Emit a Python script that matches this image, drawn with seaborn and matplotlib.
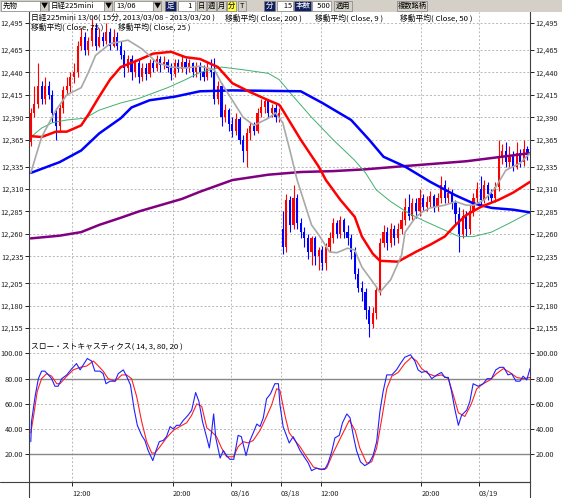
import numpy as np
import pandas as pd
import matplotlib
matplotlib.use("Agg")
import matplotlib.pyplot as plt
from matplotlib.patches import Rectangle
from matplotlib.lines import Line2D
import seaborn as sns

# 15-minute candles, Nikkei 225 mini 13/06
opens = [12362, 12395, 12405, 12425, 12410, 12425, 12415, 12395, 12380, 12400,
         12420, 12425, 12435, 12440, 12470, 12480, 12465, 12475, 12490, 12470,
         12480, 12475, 12485, 12470, 12480, 12470, 12460, 12445, 12455, 12440,
         12450, 12435, 12445, 12438, 12450, 12445, 12455, 12448, 12452, 12445,
         12438, 12450, 12444, 12452, 12445, 12450, 12440, 12447, 12440, 12435,
         12445, 12440, 12410, 12425, 12390, 12398, 12382, 12375, 12388, 12365,
         12352, 12372, 12380, 12375, 12395, 12402, 12408, 12395, 12400, 12390,
         12265, 12245, 12298, 12270, 12300, 12272, 12262, 12255, 12240, 12255,
         12235, 12242, 12228, 12245, 12255, 12272, 12260, 12275, 12262, 12255,
         12240, 12215, 12200, 12195, 12175, 12160, 12172, 12198, 12250, 12262,
         12250, 12265, 12255, 12266, 12276, 12290, 12280, 12295, 12285, 12300,
         12290, 12296, 12302, 12290, 12300, 12315, 12300, 12306, 12294, 12282,
         12260, 12280, 12266, 12285, 12300, 12310, 12298, 12315, 12305, 12300,
         12312, 12345, 12352, 12340, 12348, 12335, 12350, 12340, 12355]
closes = [12395, 12405, 12425, 12410, 12425, 12415, 12395, 12380, 12400, 12420,
          12425, 12435, 12440, 12470, 12480, 12465, 12475, 12490, 12470, 12480,
          12475, 12485, 12470, 12480, 12470, 12460, 12445, 12455, 12440, 12450,
          12435, 12445, 12438, 12450, 12445, 12455, 12448, 12452, 12445, 12438,
          12450, 12444, 12452, 12445, 12450, 12440, 12447, 12440, 12435, 12445,
          12440, 12410, 12425, 12390, 12398, 12382, 12375, 12388, 12365, 12352,
          12372, 12380, 12375, 12395, 12402, 12408, 12395, 12400, 12390, 12395,
          12245, 12298, 12270, 12300, 12272, 12262, 12255, 12240, 12255, 12235,
          12242, 12228, 12245, 12255, 12272, 12260, 12275, 12262, 12255, 12240,
          12215, 12200, 12195, 12175, 12160, 12172, 12198, 12250, 12262, 12250,
          12265, 12255, 12266, 12276, 12290, 12280, 12295, 12285, 12300, 12290,
          12296, 12302, 12290, 12300, 12315, 12300, 12306, 12294, 12282, 12260,
          12280, 12266, 12285, 12300, 12310, 12298, 12315, 12305, 12300, 12312,
          12345, 12352, 12340, 12348, 12335, 12350, 12340, 12355, 12348]
highs = [12400, 12425, 12450, 12430, 12435, 12430, 12420, 12400, 12405, 12425,
         12435, 12440, 12450, 12475, 12490, 12485, 12480, 12500, 12495, 12490,
         12485, 12495, 12490, 12488, 12485, 12475, 12465, 12460, 12460, 12455,
         12455, 12450, 12450, 12455, 12455, 12460, 12458, 12458, 12455, 12450,
         12455, 12455, 12458, 12456, 12455, 12452, 12452, 12452, 12448, 12452,
         12455, 12456, 12430, 12428, 12405, 12400, 12390, 12395, 12390, 12370,
         12378, 12385, 12385, 12400, 12410, 12412, 12410, 12405, 12405, 12400,
         12285, 12305, 12302, 12315, 12305, 12278, 12268, 12260, 12258, 12258,
         12245, 12246, 12250, 12262, 12278, 12275, 12280, 12278, 12270, 12260,
         12245, 12222, 12208, 12200, 12180, 12178, 12202, 12255, 12270, 12268,
         12272, 12270, 12272, 12285, 12300, 12305, 12300, 12300, 12310, 12305,
         12302, 12308, 12305, 12306, 12325, 12320, 12312, 12310, 12298, 12290,
         12288, 12285, 12292, 12306, 12318, 12325, 12320, 12318, 12310, 12318,
         12365, 12360, 12362, 12358, 12352, 12362, 12355, 12365, 12358]
lows = [12358, 12390, 12400, 12405, 12405, 12410, 12385, 12365, 12375, 12395,
        12415, 12418, 12428, 12435, 12465, 12460, 12460, 12470, 12465, 12468,
        12470, 12472, 12465, 12468, 12465, 12455, 12435, 12440, 12432, 12435,
        12428, 12430, 12432, 12435, 12440, 12442, 12440, 12444, 12440, 12432,
        12435, 12440, 12440, 12438, 12440, 12435, 12435, 12432, 12430, 12432,
        12435, 12405, 12405, 12380, 12385, 12375, 12368, 12370, 12360, 12340,
        12335, 12365, 12370, 12372, 12390, 12395, 12390, 12390, 12385, 12385,
        12238, 12240, 12262, 12265, 12265, 12255, 12245, 12232, 12225, 12225,
        12220, 12220, 12220, 12240, 12250, 12255, 12255, 12255, 12248, 12232,
        12210, 12195, 12185, 12165, 12145, 12155, 12165, 12192, 12245, 12242,
        12245, 12248, 12250, 12260, 12270, 12275, 12275, 12278, 12280, 12285,
        12285, 12290, 12284, 12285, 12295, 12295, 12295, 12288, 12270, 12240,
        12255, 12258, 12260, 12280, 12295, 12292, 12294, 12298, 12295, 12296,
        12308, 12338, 12335, 12335, 12330, 12332, 12335, 12336, 12342]

# moving averages, sampled along each line (bar position, value)
ma9_x = [0, 3, 7, 10, 14, 16, 18, 22, 27, 31, 35, 39, 43, 47, 51, 53, 56, 59, 62, 66,
         68, 70, 72, 74, 76, 78, 80, 83, 85, 88, 90, 92, 96, 97, 100, 103, 104, 107, 109, 111,
         115, 118, 121, 123, 126, 129, 132, 136, 138.7]
ma9_y = [12328, 12368, 12398, 12415, 12423, 12440, 12459, 12472, 12476, 12466,
         12451, 12446, 12445, 12447, 12443, 12428, 12409, 12390, 12381, 12389,
         12395, 12384, 12353, 12320, 12295, 12270, 12259, 12240, 12239, 12244,
         12242, 12223, 12201, 12195, 12209, 12236, 12262, 12279, 12285, 12289,
         12292, 12296, 12292, 12292, 12298, 12311, 12331, 12339, 12350]
ma25_x = [0, 3, 7, 10, 14, 16, 19, 22, 25, 30, 34, 39, 43, 47, 52, 56, 61, 66, 69, 70,
          75, 80, 82, 86, 90, 92, 95, 97, 102, 107, 111, 115, 118, 121, 125, 130, 134, 138.7]
ma25_y = [12369, 12368, 12374, 12374, 12381, 12393, 12413, 12432, 12446, 12454,
          12461, 12463, 12457, 12455, 12446, 12428, 12418, 12409, 12404, 12398,
          12365, 12335, 12320, 12298, 12279, 12257, 12238, 12230, 12229, 12240,
          12248, 12257, 12270, 12281, 12290, 12298, 12306, 12318]
ma50_x = [0, 3, 6, 10, 15, 19, 25, 30, 38, 43, 47, 53, 59, 66, 69, 73, 78, 84, 90, 93,
          96, 100, 105, 109, 114, 119, 123, 128, 133, 138.7]
ma50_y = [12368, 12378, 12384, 12387, 12389, 12398, 12406, 12411, 12423, 12432,
          12440, 12446, 12443, 12439, 12432, 12413, 12390, 12365, 12342, 12328,
          12309, 12296, 12283, 12275, 12266, 12257, 12257, 12262, 12272, 12284]
ma75_x = [0, 8, 14, 19, 25, 28, 33, 40, 47, 56, 75, 81, 89, 94, 98, 104, 111, 118, 123, 128,
          134, 138.7]
ma75_y = [12328, 12340, 12353, 12372, 12389, 12401, 12409, 12413, 12419, 12420,
          12419, 12406, 12387, 12365, 12346, 12335, 12318, 12303, 12294, 12289,
          12287, 12284]
ma200_x = [0, 8, 14, 19, 25, 30, 36, 42, 47, 56, 66, 75, 84, 93, 102, 121, 138.7]
ma200_y = [12255, 12258, 12262, 12270, 12278, 12285, 12292, 12299, 12307, 12320,
           12326, 12329, 12330, 12332, 12335, 12341, 12350]

# slow stochastics (14, 3): %K blue, %D red
k_x = [0, 0.2, 1.2, 2.1, 3, 3.9, 4.9, 5.8, 6.7, 7.6,
       8.6, 10, 11.4, 12.7, 13.7, 14.6, 15.7, 16.9, 17.8, 19.2,
       20.1, 20.9, 22, 23.4, 24.3, 25.7, 26.6, 27.7, 28.7, 29.6,
       30.8, 31.7, 32.6, 33.9, 34.8, 35.7, 36.8, 37.7, 38.7, 39.6,
       40.5, 41.4, 42.4, 43.7, 44.7, 45.8, 46.7, 47.7, 48.9, 49.6,
       50.2, 50.8, 51.4, 52.6, 53.5, 54.4, 55.3, 56.4, 57.6, 58.5,
       59.8, 60.9, 61.8, 62.8, 63.7, 64.6, 65.5, 66.6, 67.8, 68.8,
       69.2, 70.1, 71, 71.8, 72.9, 73.8, 74.8, 76.2, 77.1, 78,
       79.4, 80.8, 81.7, 82.6, 83.6, 84.5, 85.7, 86.6, 87.8, 88.7,
       89.6, 90.5, 91.6, 92.8, 94, 95.1, 96.1, 97, 97.9, 98.9,
       100.3, 101.6, 102.7, 103.9, 105.5, 106.7, 107.6, 108.6, 110, 111.4,
       112.8, 114.1, 115, 116, 116.9, 117.8, 118.8, 119.7, 121.1, 122,
       122.9, 124.3, 125.7, 126.8, 128, 129.2, 130.3, 131.4, 132.6, 133.6,
       134.8, 135.9, 136.8, 137.8, 138.7]
k_y = [30, 46, 66, 80, 86, 86, 83, 80, 74, 74,
       80, 83, 88, 92, 87, 91, 96, 94, 86, 86,
       84, 76, 78, 78, 84, 87, 82, 75, 56, 43,
       35, 31, 23, 15, 23, 30, 31, 34, 42, 40,
       43, 43, 47, 51, 55, 69, 62, 46, 33, 25,
       37, 52, 33, 17, 23, 19, 16, 16, 35, 34,
       19, 31, 37, 44, 42, 49, 64, 68, 76, 76,
       60, 42, 35, 29, 34, 29, 23, 17, 13, 7,
       9, 8, 8, 13, 22, 33, 35, 45, 52, 49,
       35, 23, 14, 11, 13, 19, 30, 54, 70, 83,
       83, 87, 92, 97, 99, 94, 87, 85, 86, 80,
       83, 85, 81, 81, 70, 56, 43, 51, 55, 62,
       76, 74, 76, 80, 80, 87, 89, 89, 83, 84,
       78, 78, 82, 79, 88]
d_x = [0, 0.7, 1.8, 3, 4.4, 5.8, 7.2, 8.1, 10, 11.8,
       13.7, 15.5, 17.4, 18.8, 20.1, 21.5, 23.4, 25.3, 26.6, 28,
       29.4, 30.8, 32.2, 33.6, 34.5, 35.9, 37.7, 39.6, 41.4, 43.3,
       44.7, 46.1, 47.5, 48.9, 50.2, 51.6, 53, 54.4, 56.3, 57.6,
       59, 60.4, 61.8, 63.7, 65.5, 66.9, 68.3, 69.2,
       70.6, 71.8, 73.4, 74.8, 76.6, 78.5, 80.3, 82.2, 84, 86.4,
       88.5, 90.1, 91.4, 93.3, 94.7, 96.1, 97.5, 98.9, 100.3, 102.1,
       103.9, 105.8, 107.2, 108.6, 110.4, 112.3, 114.1, 116, 117.4, 118.8,
       120.6, 122.4, 123.9, 125.7, 127.6, 129.4, 131.3, 133.1, 135, 136.8,
       138.7]
d_y = [37, 49, 70, 80, 84, 82, 76, 76, 82, 87,
       89, 90, 94, 90, 86, 80, 78, 83, 83, 80,
       66, 46, 30, 21, 21, 26, 33, 39, 42, 45,
       51, 60, 58, 41, 38, 34, 25, 18, 18, 26,
       30, 29, 31, 39, 50, 59, 72, 71,
       51, 37, 31, 26, 18, 10, 8, 9, 21, 35,
       47, 39, 25, 13, 14, 25, 48, 72, 82, 85,
       92, 97, 94, 88, 84, 82, 83, 80, 67, 53,
       50, 60, 72, 76, 79, 84, 88, 85, 81, 80,
       81]

price_ticks = [12155, 12180, 12205, 12235, 12260, 12285, 12310, 12335, 12365,
               12390, 12415, 12440, 12465, 12495]
stoch_ticks = [20, 40, 60, 80, 100]
stoch_bands = [20, 80]
time_pos = [11.5, 39.5, 55.5, 69.5, 80.5, 108.5, 124.5]
time_labels = ["12:00", "20:00", "03/16", "03/18", "12:00", "20:00", "03/19"]

sns.set_style("white")
plt.rcParams['font.family'] = ['Noto Sans CJK JP', 'DejaVu Sans']

W, H = 562, 498
fig = plt.figure(figsize=(W / 100, H / 100), dpi=100)


def fx(px):
    return px / W


def fy(py):
    return 1 - py / H


L, R = 29, 530
ax = fig.add_axes([fx(L), fy(340), fx(R) - fx(L), fy(12) - fy(340)])
ax2 = fig.add_axes([fx(L), fy(482), fx(R) - fx(L), fy(340) - fy(482)], sharex=ax)

grid_kw = dict(color='#b8b8b8', linestyle=(0, (2, 2)), linewidth=0.7)
tick_font = 5.3

# ---- price panel ----
o = np.array(opens)
c = np.array(closes)
bars = np.arange(len(c))
col = np.where(c >= o, '#ff0000', '#0000ff')
ax.vlines(bars, lows, highs, colors=col, linewidth=0.8, zorder=2)
ax.bar(bars, np.maximum(np.abs(c - o), 1.5), bottom=np.minimum(o, c),
       width=0.6, color=col, linewidth=0, zorder=2)

sns.lineplot(x=ma200_x, y=ma200_y, ax=ax, color='#800080', linewidth=1.8, zorder=3)
sns.lineplot(x=ma50_x, y=ma50_y, ax=ax, color='#40b070', linewidth=0.7, zorder=3)
sns.lineplot(x=ma75_x, y=ma75_y, ax=ax, color='#0000ff', linewidth=1.8, zorder=3)
sns.lineplot(x=ma25_x, y=ma25_y, ax=ax, color='#ff0000', linewidth=1.8, zorder=3)
sns.lineplot(x=ma9_x, y=ma9_y, ax=ax, color='#a8a8a8', linewidth=1.2, zorder=3)

ax.set_xlim(-0.5, 138.7)
ax.set_ylim(12141.7, 12507.4)
ax.set_yticks(price_ticks)
ax.set_yticklabels([f"{v:,}" for v in price_ticks])
for v in price_ticks:
    ax.axhline(v, zorder=1, **grid_kw)
for t in time_pos:
    ax.axvline(t, zorder=1, **grid_kw)
ax.tick_params(axis='y', left=True, right=True, labelleft=True, labelright=True,
               length=3, width=0.7, pad=1, labelsize=tick_font, colors='#202020')
ax.tick_params(axis='x', bottom=False, labelbottom=False)
ax.set_xlabel("")
ax.set_ylabel("")
for s in ['top', 'bottom']:
    ax.spines[s].set_visible(False)
for s in ['left', 'right']:
    ax.spines[s].set_color('#404040')
    ax.spines[s].set_linewidth(0.8)

title_kw = dict(fontsize=5.6, color='black', va='center', ha='left')
fig.text(fx(31), fy(18), "日経225mini 13/06( 15分, 2013/03/08 - 2013/03/20 )", **title_kw)
fig.text(fx(225), fy(18), "移動平均( Close, 200 )", **title_kw)
fig.text(fx(315), fy(18), "移動平均( Close, 9 )", **title_kw)
fig.text(fx(400), fy(18), "移動平均( Close, 50 )", **title_kw)
fig.text(fx(31), fy(27), "移動平均( Close, 75 )", **title_kw)
fig.text(fx(118), fy(27), "移動平均( Close, 25 )", **title_kw)

# ---- stochastics panel ----
for v in stoch_ticks:
    if v not in stoch_bands:
        ax2.axhline(v, zorder=1, **grid_kw)
for t in time_pos:
    ax2.axvline(t, zorder=1, **grid_kw)
for v in stoch_bands:
    ax2.plot([-0.5, 138.7], [v, v], color='#888888', linewidth=1.0, zorder=2)
sns.lineplot(x=d_x, y=d_y, ax=ax2, color='#ff2020', linewidth=0.8, zorder=3)
sns.lineplot(x=k_x, y=k_y, ax=ax2, color='#2020ff', linewidth=0.8, zorder=4)
ax2.set_xlim(-0.5, 138.7)
ax2.set_ylim(-2, 110.7)
ax2.set_yticks(stoch_ticks)
ax2.set_yticklabels([f"{v:.2f}" for v in stoch_ticks])
ax2.set_xticks(time_pos)
ax2.set_xticklabels(time_labels, ha='left')
ax2.tick_params(axis='y', left=True, right=True, labelleft=True, labelright=True,
                length=3, width=0.7, pad=1, labelsize=tick_font, colors='#202020')
ax2.tick_params(axis='x', bottom=True, length=3, width=0.7, pad=3,
                labelsize=tick_font, colors='#202020')
ax2.set_xlabel("")
ax2.set_ylabel("")
ax2.spines['top'].set_visible(False)
for s in ['left', 'right', 'bottom']:
    ax2.spines[s].set_color('#404040')
    ax2.spines[s].set_linewidth(0.8)
fig.text(fx(31), fy(347), "スロー・ストキャスティクス( 14, 3, 80, 20 )", **title_kw)

# axis lines running through the time-label strip
for px in (L, R):
    fig.add_artist(Line2D([fx(px), fx(px)], [0, fy(482)], color='#404040', linewidth=0.8))
fig.add_artist(Line2D([0, fx(R)], [fy(482), fy(482)], color='#404040', linewidth=0.8))

# ---- toolbar ----
fig.add_artist(Rectangle((0, fy(12)), 1, fy(0) - fy(12), transform=fig.transFigure,
                         facecolor='#d4d0c8', edgecolor='none'))


def box(x0, x1, text, face='white', tcolor='black', edge='#808080'):
    fig.add_artist(Rectangle((fx(x0), fy(11)), fx(x1) - fx(x0), fy(1) - fy(11),
                             transform=fig.transFigure, facecolor=face,
                             edgecolor=edge, linewidth=0.5))
    if text:
        fig.text(fx(x0 + 2), fy(6), text, fontsize=5.4, color=tcolor,
                 va='center', ha='left')


def button(x0, x1, text, face='#d4d0c8'):
    fig.add_artist(Rectangle((fx(x0), fy(11)), fx(x1) - fx(x0), fy(1) - fy(11),
                             transform=fig.transFigure, facecolor=face,
                             edgecolor='#808080', linewidth=0.5))
    fig.text(fx((x0 + x1) / 2), fy(6), text, fontsize=5.2, color='black',
             va='center', ha='center')


box(1, 40, "先物")
button(40, 48, "▼")
box(49, 104, "日経225mini")
button(104, 112, "▼")
box(114, 153, "13/06")
button(153, 161, "▼")
box(165, 176, "足", face='#102060', tcolor='white')
box(178, 195, "     1")
button(197, 206, "日")
button(207, 216, "週")
button(217, 226, "月")
button(227, 236, "分", face='#ffff40')
button(238, 246, "T")
box(264, 275, "分", face='#102060', tcolor='white')
box(277, 293, "   15")
box(294, 311, "本数", face='#102060', tcolor='white')
box(312, 331, "  500")
button(334, 352, "適用")
button(397, 427, "複数銘柄")

fig.savefig("out.png", dpi=100)
